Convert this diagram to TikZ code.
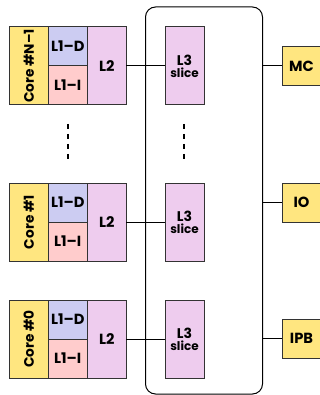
\documentclass[tikz,border=0pt]{standalone}
\usepackage{fontspec}
\setmainfont{Poppins}
\definecolor{coreY}{HTML}{FFE680}
\definecolor{lOneD}{HTML}{CCCCF2}
\definecolor{lOneI}{HTML}{FFCCCC}
\definecolor{lTwo}{HTML}{EECCEE}
\definecolor{edge}{HTML}{333333}
\begin{document}
\begin{tikzpicture}[x=0.75pt,y=-0.75pt,
  box/.style={draw=edge, line width=0.75pt, inner sep=0pt, outer sep=0pt, align=center, font=\bfseries\fontsize{11}{12}\selectfont},
  corebox/.style={box, fill=coreY, minimum width=28.9pt, minimum height=58.5pt},
  lonebox/.style={box, minimum width=29.6pt, minimum height=29.25pt},
  ltwobox/.style={box, fill=lTwo, minimum width=28.9pt, minimum height=58.5pt},
  lthreebox/.style={box, fill=lTwo, minimum width=29.25pt, minimum height=58.5pt, font=\bfseries\fontsize{10.5}{8}\selectfont},
  periph/.style={box, fill=coreY, minimum width=29.25pt, minimum height=29.25pt},
  wire/.style={draw=black, line width=0.75pt},
  vdots/.style={draw=black, line width=1.4pt, dash pattern=on 3.75pt off 3.75pt}]
\clip (0,0) rectangle (320,395);
\useasboundingbox (0,0) rectangle (320,395);
% bus
\node[draw=black, line width=0.75pt, rounded corners=7.5pt, inner sep=0pt, minimum width=87.75pt, minimum height=290.25pt] (bus) at (204,200.5) {};
% blocks
\foreach \ty/\lab/\n in {27/{Core \#N\textendash1}/2, 183/{Core \#1}/1, 300/{Core \#0}/0}{
  \node[corebox] (core\n) at (28.75,\ty+39) {};
  \node[rotate=90, font=\bfseries\fontsize{10.3}{12}\selectfont] (corelab\n) at (core\n) {\lab};
  \node[lonebox, fill=lOneD] (l1d\n) at (67.75,\ty+19.5) {L1\textendash D};
  \node[lonebox, fill=lOneI] (l1i\n) at (67.75,\ty+58.5) {L1\textendash I};
  \node[ltwobox] (l2\n) at (106.75,\ty+39) {L2};
  \node[lthreebox] (l3\n) at (184.5,\ty+39) {L3\\[1pt]{\fontsize{9}{9}\selectfont slice}};
  \draw[wire] (l2\n.east) -- (l3\n.west);
}
% peripherals
\node[periph] (mc) at (301.5,66) {MC};
\node[periph] (io) at (301.5,202.5) {IO};
\node[periph] (ipb) at (301.5,338.5) {IPB};
\foreach \p in {mc,io,ipb}{
  \draw[wire] (\p.west) -- (\p.west -| bus.east);
}
% dots
\coordinate (da1) at (67.7,124);
\coordinate (db1) at (67.7,160);
\coordinate (da2) at (184.3,124);
\coordinate (db2) at (184.3,160);
\draw[vdots] (da1) -- (db1);
\draw[vdots] (da2) -- (db2);
\end{tikzpicture}
\end{document}
